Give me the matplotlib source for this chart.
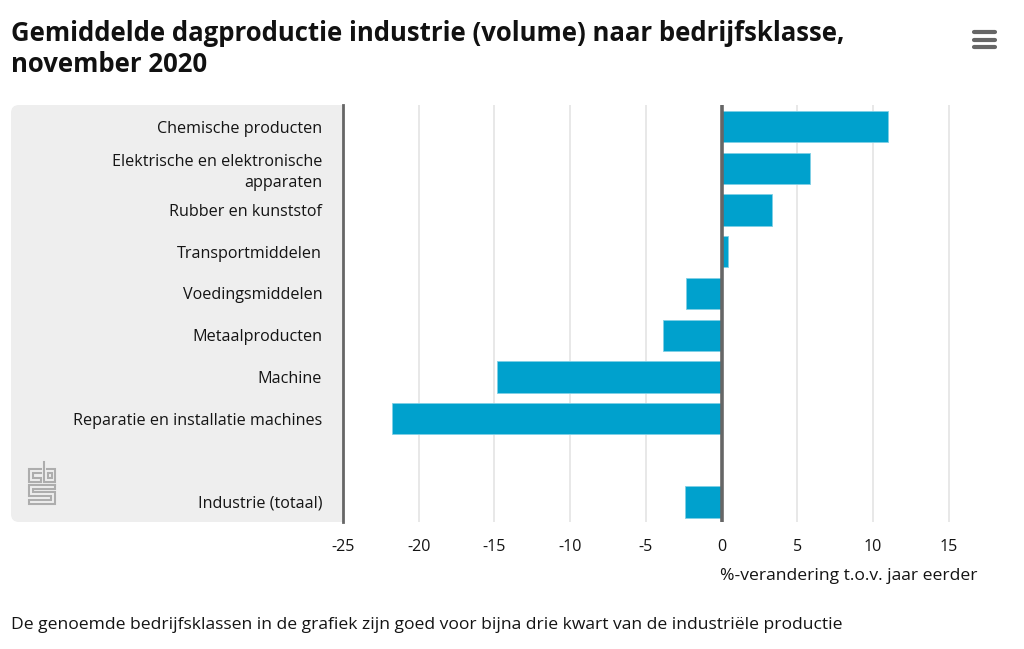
import matplotlib
matplotlib.use("Agg")
import matplotlib.pyplot as plt
from matplotlib.patches import FancyBboxPatch, Rectangle

categories = ["Chemische producten", "Elektrische en elektronische\napparaten", "Rubber en kunststof",
              "Transportmiddelen", "Voedingsmiddelen", "Metaalproducten", "Machine",
              "Reparatie en installatie machines", "", "Industrie (totaal)"]
values = [11.0, 5.85, 3.3, 0.4, -2.35, -3.85, -14.8, -21.75, None, -2.45]
xticks = [-25, -20, -15, -10, -5, 0, 5, 10, 15]

plt.rcParams["font.family"] = "Open Sans"
W, H = 1024, 649
L, R, T, B = 343, 973, 105, 522
TEXT = "#141414"

fig = plt.figure(figsize=(W / 100, H / 100), dpi=100)

# overlay in pixel coordinates for panel, logo and menu icon
bg = fig.add_axes([0, 0, 1, 1], zorder=0)
bg.set_xlim(0, W)
bg.set_ylim(H, 0)
bg.axis("off")
bg.add_patch(FancyBboxPatch((19, 113), 316, 401, boxstyle="round,pad=8,rounding_size=8", fc="#eeeeee", ec="none"))
bg.add_patch(Rectangle((320, 105), 23, 417, fc="#eeeeee", ec="none"))

logo = [
    ([41, 29, 29, 41, 41, 33, 33, 41], [469, 469, 482, 482, 478, 478, 473, 473]),
    ([44, 44, 55, 55, 47], [462, 482, 482, 469, 469]),
    ([48, 48, 52, 52, 48], [473, 478, 478, 473, 473]),
    ([55, 29, 29, 51, 51, 29, 29, 55, 55, 33, 33, 55, 55], [485, 485, 496, 496, 500, 500, 504, 504, 492, 492, 489, 489, 485]),
]
for lx, ly in logo:
    bg.plot(lx, ly, color="#adadad", lw=1.5, solid_joinstyle="miter")

for y in [32, 39.5, 47]:
    bg.plot([974, 995], [y, y], color="#666666", lw=3, solid_capstyle="round")

ax = fig.add_axes([L / W, 1 - B / H, (R - L) / W, (B - T) / H], zorder=1)
ax.patch.set_alpha(0)
pos = list(range(len(categories)))
for p, v in zip(pos, values):
    if v is not None:
        ax.barh(p, v, height=0.75, color="#00a1cd", edgecolor="#7fd0e6", linewidth=0.6, zorder=2)

ax.set_xlim(-25, 16.6)
ax.set_ylim(len(categories) - 0.52, -0.52)
ax.set_yticks(pos)
ax.set_yticklabels(categories, fontsize=11.6, color=TEXT, linespacing=1.35)
ax.set_xticks(xticks)
ax.set_xticklabels([str(t) for t in xticks], fontsize=11.6, color=TEXT)
ax.tick_params(axis="y", length=0, pad=15)
ax.tick_params(axis="x", length=0, pad=12)
ax.grid(axis="x", color="#e6e6e6", lw=1.3, zorder=0)
ax.set_axisbelow(True)
for s in ["top", "right", "bottom"]:
    ax.spines[s].set_visible(False)
ax.spines["left"].set_color("#666666")
ax.spines["left"].set_linewidth(2)
ax.axvline(0, color="#666666", lw=2.6, zorder=3)

bg.text(978, 576, "%-verandering t.o.v. jaar eerder", fontsize=12.6, color=TEXT, ha="right", va="center")
bg.text(11, 49, "Gemiddelde dagproductie industrie (volume) naar bedrijfsklasse,\nnovember 2020",
        fontsize=18.5, fontweight="bold", color="#111111", ha="left", va="center", linespacing=1.22)
bg.text(11, 625, "De genoemde bedrijfsklassen in de grafiek zijn goed voor bijna drie kwart van de industriële productie",
        fontsize=12.6, color=TEXT, ha="left", va="center")

fig.savefig("out.png", dpi=100)
